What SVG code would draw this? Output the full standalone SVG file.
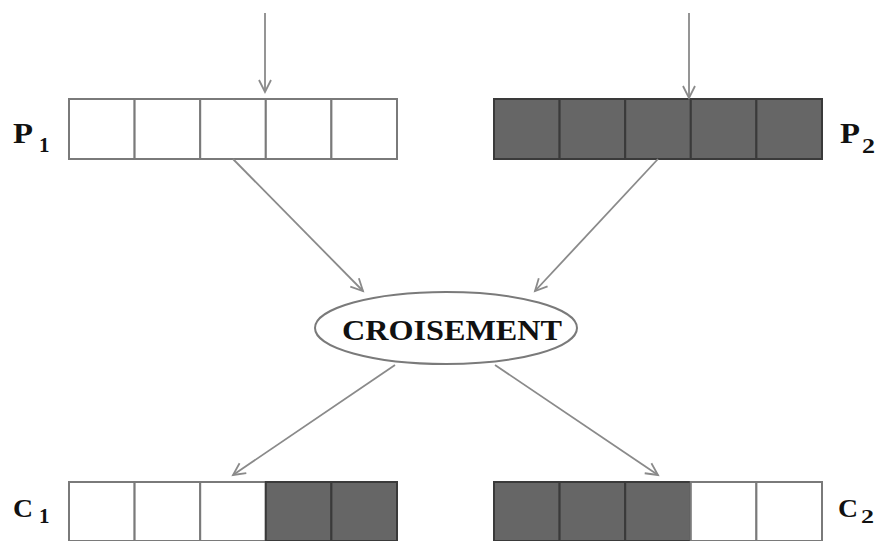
<svg xmlns="http://www.w3.org/2000/svg" width="879" height="541" viewBox="0 0 879 541">
<style>
.lbl{font-family:"Liberation Serif","Times New Roman",serif;font-weight:bold;fill:#111}
.w{fill:#fff;stroke:#7a7a7a;stroke-width:2}
.d{fill:#666;stroke:#3a3a3a;stroke-width:2}
.c{stroke:#8a8a8a;stroke-width:1.8;fill:none;marker-end:url(#ah)}
</style>
<defs>
<marker id="ah" markerWidth="14" markerHeight="14" refX="12" refY="6" orient="auto" markerUnits="userSpaceOnUse" overflow="visible">
<path d="M0,0 L12,6 L0,12" fill="none" stroke="#8a8a8a" stroke-width="1.8"/>
</marker>
</defs>
<rect width="879" height="541" fill="#fff"/>
<g id="P1">
<rect class="w" x="69" y="99" width="65.6" height="60"/>
<rect class="w" x="134.6" y="99" width="65.6" height="60"/>
<rect class="w" x="200.2" y="99" width="65.6" height="60"/>
<rect class="w" x="265.8" y="99" width="65.6" height="60"/>
<rect class="w" x="331.4" y="99" width="65.6" height="60"/>
<text class="lbl" x="13" y="143" font-size="29" textLength="20" lengthAdjust="spacingAndGlyphs">P</text>
<text class="lbl" x="39" y="152" font-size="21">1</text>
</g>
<g id="P2">
<rect class="d" x="494" y="99" width="65.6" height="60"/>
<rect class="d" x="559.6" y="99" width="65.6" height="60"/>
<rect class="d" x="625.2" y="99" width="65.6" height="60"/>
<rect class="d" x="690.8" y="99" width="65.6" height="60"/>
<rect class="d" x="756.4" y="99" width="65.6" height="60"/>
<text class="lbl" x="840" y="143" font-size="29" textLength="20" lengthAdjust="spacingAndGlyphs">P</text>
<text class="lbl" x="862" y="153" font-size="21" textLength="13" lengthAdjust="spacingAndGlyphs">2</text>
</g>
<g id="croisement">
<ellipse cx="446" cy="328" rx="131" ry="36" fill="#fff" stroke="#7a7a7a" stroke-width="2"/>
<text class="lbl" x="452" y="340" font-size="30" text-anchor="middle" textLength="220" lengthAdjust="spacingAndGlyphs">CROISEMENT</text>
</g>
<g id="C1">
<rect class="w" x="69" y="482" width="65.6" height="59"/>
<rect class="w" x="134.6" y="482" width="65.6" height="59"/>
<rect class="w" x="200.2" y="482" width="65.6" height="59"/>
<rect class="d" x="265.8" y="482" width="65.6" height="59"/>
<rect class="d" x="331.4" y="482" width="65.6" height="59"/>
<text class="lbl" x="13" y="517" font-size="26" textLength="20" lengthAdjust="spacingAndGlyphs">C</text>
<text class="lbl" x="39" y="523" font-size="21">1</text>
</g>
<g id="C2">
<rect class="d" x="494" y="482" width="65.6" height="59"/>
<rect class="d" x="559.6" y="482" width="65.6" height="59"/>
<rect class="d" x="625.2" y="482" width="65.6" height="59"/>
<rect class="w" x="690.8" y="482" width="65.6" height="59"/>
<rect class="w" x="756.4" y="482" width="65.6" height="59"/>
<text class="lbl" x="838" y="517" font-size="26" textLength="20" lengthAdjust="spacingAndGlyphs">C</text>
<text class="lbl" x="861" y="523" font-size="19" textLength="13" lengthAdjust="spacingAndGlyphs">2</text>
</g>
<g id="connectors">
<line class="c" x1="265" y1="13" x2="265" y2="92"/>
<line class="c" x1="689" y1="13" x2="689" y2="98"/>
<line class="c" x1="233" y1="159" x2="363" y2="291"/>
<line class="c" x1="658" y1="159" x2="535" y2="291"/>
<line class="c" x1="395" y1="365" x2="233" y2="475"/>
<line class="c" x1="495" y1="365" x2="658" y2="475"/>
</g>
</svg>
